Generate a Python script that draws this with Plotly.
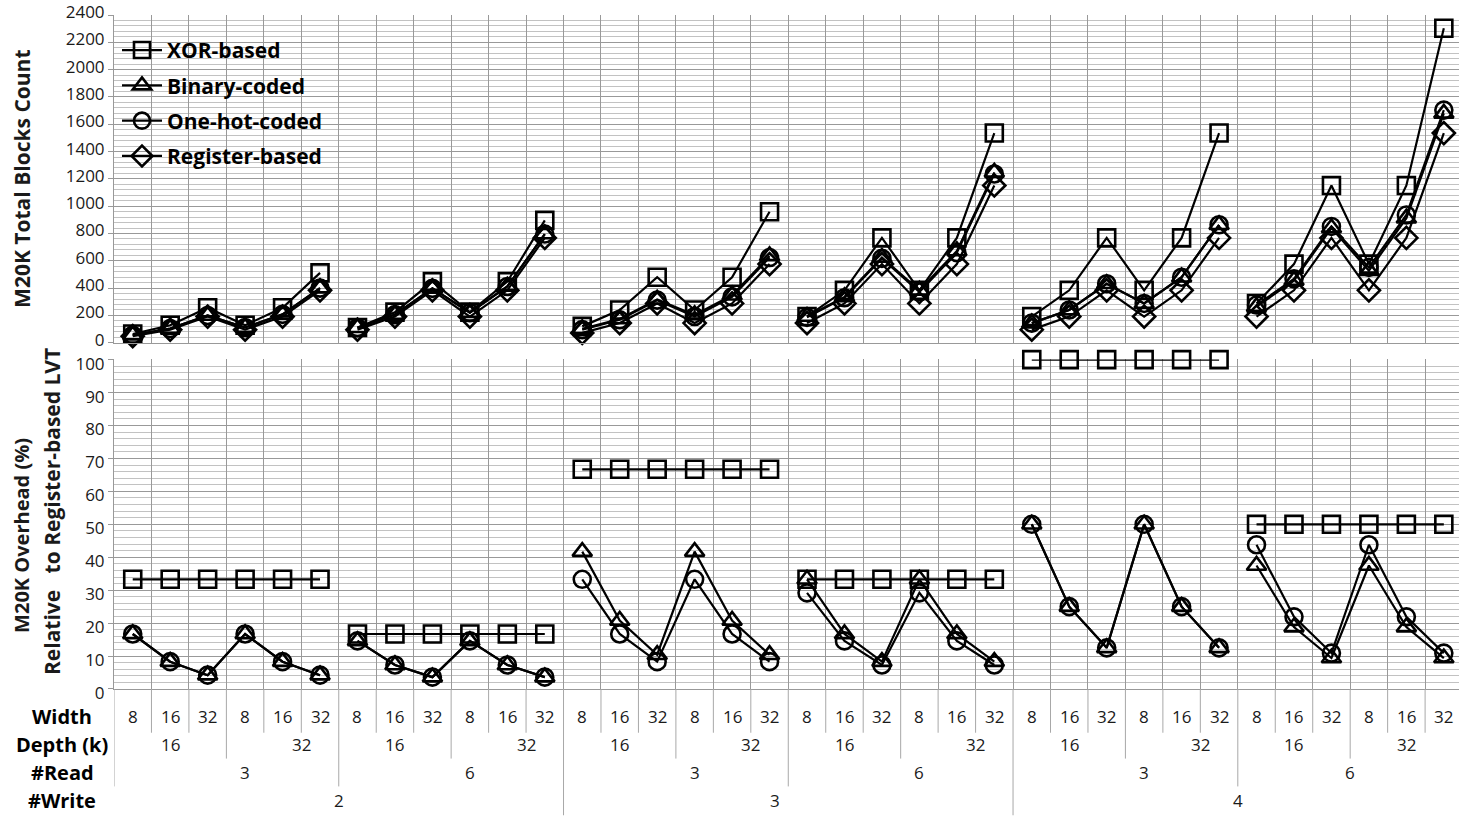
import plotly.graph_objects as go

# ---------------- data ----------------
width_labels = ["8", "16", "32"]
depth_labels = ["16", "32"]
read_labels = ["3", "6"]
write_labels = ["2", "3", "4"]

series_names = ["XOR-based", "Binary-coded", "One-hot-coded", "Register-based"]

# M20K total blocks count (36 configurations: #Write > #Read > Depth > Width)
blocks_xor = [64, 128, 256, 128, 256, 512,
              112, 224, 448, 224, 448, 896,
              120, 240, 480, 240, 480, 960,
              192, 384, 768, 384, 768, 1536,
              192, 384, 768, 384, 768, 1536,
              288, 576, 1152, 576, 1152, 2304]
blocks_binary = [56, 104, 200, 112, 208, 400,
                 110, 206, 398, 220, 412, 796,
                 102, 174, 318, 204, 348, 636,
                 192, 336, 624, 384, 672, 1248,
                 144, 240, 432, 288, 480, 864,
                 264, 456, 840, 528, 912, 1680]
blocks_onehot = [56, 104, 200, 112, 208, 400,
                 110, 206, 398, 220, 412, 796,
                 96, 168, 312, 192, 336, 624,
                 186, 330, 618, 372, 660, 1236,
                 144, 240, 432, 288, 480, 864,
                 276, 468, 852, 552, 936, 1704]
blocks_register = [48, 96, 192, 96, 192, 384,
                   96, 192, 384, 192, 384, 768,
                   72, 144, 288, 144, 288, 576,
                   144, 288, 576, 288, 576, 1152,
                   96, 192, 384, 192, 384, 768,
                   192, 384, 768, 384, 768, 1536]

# M20K overhead (%) relative to register-based LVT
ovh_xor = [33.3] * 6 + [16.7] * 6 + [66.7] * 6 + [33.3] * 6 + [100] * 6 + [50] * 6
ovh_binary = [16.7, 8.3, 4.2, 16.7, 8.3, 4.2,
              14.6, 7.3, 3.6, 14.6, 7.3, 3.6,
              41.7, 20.8, 10.4, 41.7, 20.8, 10.4,
              33.3, 16.7, 8.3, 33.3, 16.7, 8.3,
              50, 25, 12.5, 50, 25, 12.5,
              37.5, 18.8, 9.4, 37.5, 18.8, 9.4]
ovh_onehot = [16.7, 8.3, 4.2, 16.7, 8.3, 4.2,
              14.6, 7.3, 3.6, 14.6, 7.3, 3.6,
              33.3, 16.7, 8.3, 33.3, 16.7, 8.3,
              29.2, 14.6, 7.3, 29.2, 14.6, 7.3,
              50, 25, 12.5, 50, 25, 12.5,
              43.8, 21.9, 10.9, 43.8, 21.9, 10.9]

symbols = ["square-open", "triangle-up-open", "circle-open", "diamond-open"]
top_data = [blocks_xor, blocks_binary, blocks_onehot, blocks_register]
bot_data = [ovh_xor, ovh_binary, ovh_onehot, None]

# ---------------- figure ----------------
W, H = 1459, 816
L, R, T, B = 114, 0, 11, 127
PH = H - T - B
PW = W - L - R
CAT_PX = 37.46  # pixel width of one category


def py(p):  # pixel y -> paper y
    return (H - B - p) / PH


def px_(p):  # pixel x -> paper x
    return (p - L) / PW


n = len(blocks_xor)
grp = 6
fig = go.Figure()

for s, name in enumerate(series_names):
    for axis_i, data in ((1, top_data[s]), (2, bot_data[s])):
        if data is None:
            continue
        for g in range(n // grp):
            xs = list(range(g * grp, (g + 1) * grp))
            ys = data[g * grp:(g + 1) * grp]
            fig.add_trace(go.Scatter(
                x=xs, y=ys, mode="lines+markers", name=name,
                legendgroup=name, showlegend=(axis_i == 1 and g == 0),
                cliponaxis=False,
                line=dict(color="black", width=2.2),
                marker=dict(symbol=symbols[s], size=17, color="black",
                            line=dict(color="black", width=2.6)),
                xaxis="x" if axis_i == 1 else "x2",
                yaxis="y" if axis_i == 1 else "y2",
            ))

grid_major = "#999999"
grid_minor = "#c2c2c2"
tickfont = dict(family="Open Sans", size=17, color="#1a1a1a")
bounds = [i - 0.5 for i in range(n + 1)]
x_hi = -0.5 + PW / CAT_PX

xcommon = dict(range=[-0.5, x_hi], tickvals=bounds, showticklabels=False,
               showgrid=True, gridcolor=grid_major, gridwidth=1, ticks="",
               showline=True, linecolor=grid_major, linewidth=1, zeroline=False)
top_dom = [py(340.7), 1.0]
bot_dom = [0.0, py(357.5)]

fig.update_layout(
    width=W, height=H,
    margin=dict(l=L, r=R, t=T, b=B),
    paper_bgcolor="white", plot_bgcolor="white",
    xaxis=dict(domain=[0, 1], anchor="y", **xcommon),
    xaxis2=dict(domain=[0, 1], anchor="y2", **xcommon),
    yaxis=dict(domain=top_dom, anchor="x", range=[0, 2400.5],
               tickvals=list(range(0, 2401, 200)),
               showgrid=True, gridcolor=grid_major, zeroline=False,
               showline=True, linecolor=grid_major, ticks="outside",
               ticklen=5, tickcolor=grid_major, tickfont=tickfont,
               ticklabelshift=-3, ticklabeloverflow="allow",
               minor=dict(dtick=40, showgrid=True, gridcolor=grid_minor, ticks="")),
    yaxis2=dict(domain=bot_dom, anchor="x2", range=[0, 100.05],
                tickvals=list(range(0, 101, 10)),
                showgrid=True, gridcolor=grid_major, zeroline=False,
                showline=True, linecolor=grid_major, ticks="outside",
                ticklen=5, tickcolor=grid_major, tickfont=tickfont,
                ticklabelshift=4, ticklabeloverflow="allow",
                minor=dict(dtick=2, showgrid=True, gridcolor=grid_minor, ticks="")),
    legend=dict(x=px_(117), y=py(26), xanchor="left", yanchor="top",
                bgcolor="rgba(0,0,0,0)", borderwidth=0,
                font=dict(family="Open Sans", size=21, color="black", weight="bold"),
                tracegroupgap=5, itemwidth=40),
    showlegend=True,
)

ann = []
# y-axis titles
ann.append(dict(text="M20K Total Blocks Count", x=px_(22), y=(top_dom[0] + top_dom[1]) / 2,
                xref="paper", yref="paper", textangle=-90, showarrow=False,
                font=dict(family="Open Sans", size=21, color="#1a1a1a", weight="bold"),
                xanchor="center", yanchor="middle"))
ann.append(dict(text="M20K Overhead (%)", x=px_(22), y=py(535),
                xref="paper", yref="paper", textangle=-90, showarrow=False,
                font=dict(family="Open Sans", size=20, color="#1a1a1a", weight="bold"),
                xanchor="center", yanchor="middle"))
ann.append(dict(text="Relative\u00a0\u00a0 to Register-based LVT", x=px_(52), y=py(511),
                xref="paper", yref="paper", textangle=-90, showarrow=False,
                font=dict(family="Open Sans", size=21, color="#1a1a1a", weight="bold"),
                xanchor="center", yanchor="middle"))

# hierarchical category axis
row_y = {"w": 717, "d": 745, "r": 773, "wr": 801}
row_end = {1: 733, 3: 759, 6: 787, 12: 816}
head_font = dict(family="Open Sans", size=20, color="black", weight="bold")
lab_font = dict(family="Open Sans", size=17, color="#1a1a1a")
for key, txt in (("w", "Width"), ("d", "Depth (k)"), ("r", "#Read"), ("wr", "#Write")):
    ann.append(dict(text=txt, x=px_(62), y=py(row_y[key]), xref="paper", yref="paper",
                    showarrow=False, font=head_font, xanchor="center", yanchor="middle"))

n_w, n_d, n_r = len(width_labels), len(depth_labels), len(read_labels)
for i in range(n):
    ann.append(dict(text=width_labels[i % n_w], x=i, y=py(row_y["w"]), xref="x2", yref="paper",
                    showarrow=False, font=lab_font, xanchor="center", yanchor="middle"))
n_dg = n // n_w
for k in range(n_dg):
    off = 0.5 if (k % 2 == 1 and k != n_dg - 1) else 0.0
    ann.append(dict(text=depth_labels[k % n_d], x=k * n_w + (n_w - 1) / 2 + off, y=py(row_y["d"]),
                    xref="x2", yref="paper", showarrow=False, font=lab_font,
                    xanchor="center", yanchor="middle"))
span_r = n_w * n_d
n_rg = n // span_r
for k in range(n_rg):
    off = 0.5 if k != n_rg - 1 else 0.0
    ann.append(dict(text=read_labels[k % n_r], x=k * span_r + (span_r - 1) / 2 + off, y=py(row_y["r"]),
                    xref="x2", yref="paper", showarrow=False, font=lab_font,
                    xanchor="center", yanchor="middle"))
span_wr = span_r * n_r
for k in range(len(write_labels)):
    off = -0.35 if k == 1 else 0.0
    ann.append(dict(text=write_labels[k], x=k * span_wr + (span_wr - 1) / 2 + off, y=py(row_y["wr"]),
                    xref="x2", yref="paper", showarrow=False, font=lab_font,
                    xanchor="center", yanchor="middle"))

shapes = []
for b in range(n):
    if b % span_wr == 0 and b != 0:
        level = 12
    elif b % span_r == 0:
        level = 6
    elif b % n_w == 0:
        level = 3
    else:
        level = 1
    shapes.append(dict(type="line", xref="x2", yref="paper", x0=b - 0.5, x1=b - 0.5,
                       y0=0, y1=py(row_end[level]), line=dict(color="#a8a8a8", width=1)))

fig.update_layout(annotations=ann, shapes=shapes)
fig.write_html("out.html", config={"displayModeBar": False},
               post_script="document.body.style.margin='0px';document.body.style.overflow='hidden';")
